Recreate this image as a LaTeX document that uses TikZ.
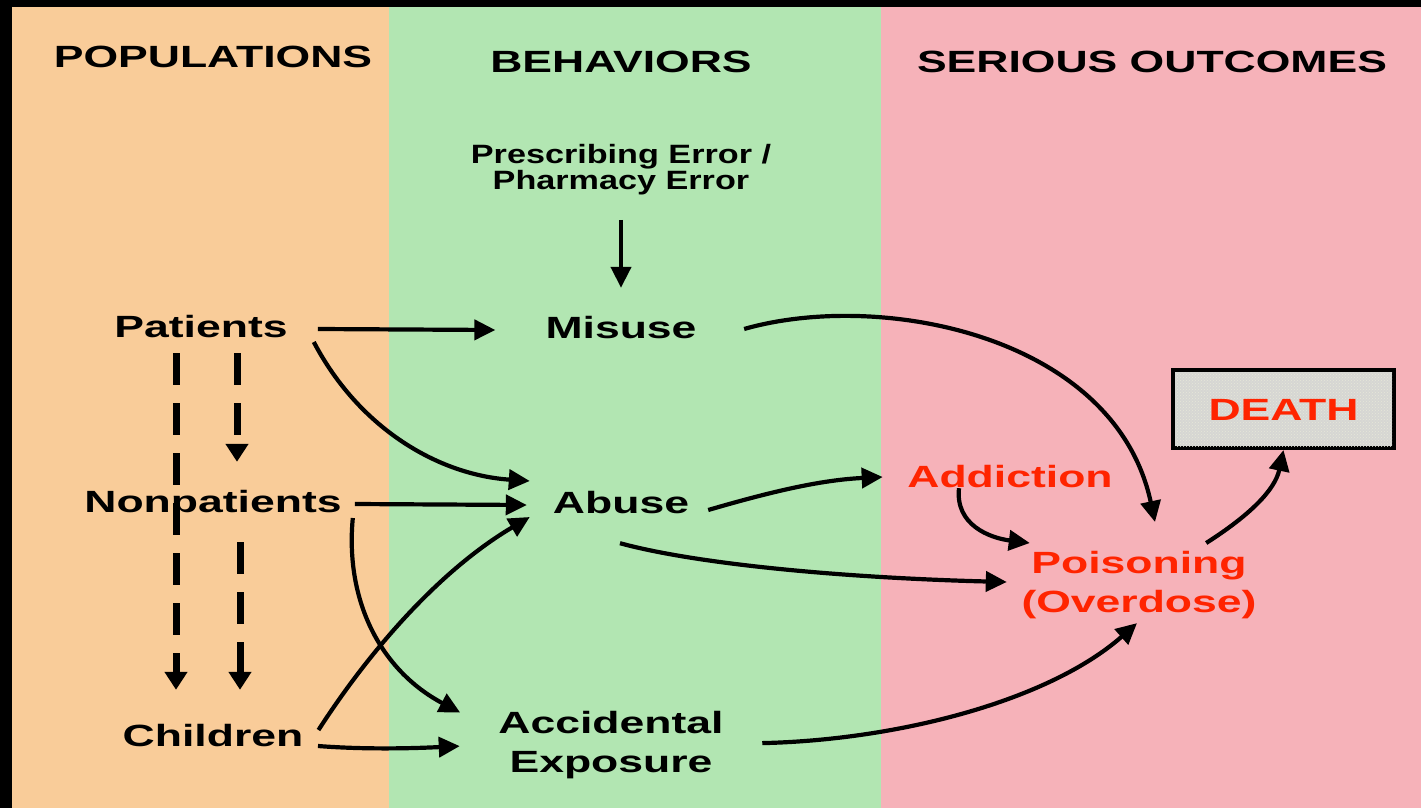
\documentclass[tikz,border=0pt]{standalone}
\usepackage{fontspec}
\usetikzlibrary{arrows.meta,patterns}
\newfontfamily\dfont{Liberation Sans}[FakeStretch=1.45]
\newfontfamily\pfont{Liberation Sans}[FakeStretch=1.29]
\definecolor{popbg}{HTML}{F9CC99}
\definecolor{behbg}{HTML}{B2E6B2}
\definecolor{outbg}{HTML}{F6B2B9}
\definecolor{redtxt}{HTML}{FF2400}
\definecolor{deathbg}{HTML}{D6D6D3}
\definecolor{deathdot}{HTML}{E6E8D8}
\tikzset{
  lbl/.style={font=\dfont\bfseries\fontsize{30.7}{39}\selectfont, inner sep=0pt, text height=22pt, text depth=6pt, anchor=base},
  ttl/.style={lbl},
  redlbl/.style={lbl, text=redtxt},
  twoline/.style={font=\dfont\bfseries\fontsize{30.7}{39}\selectfont, inner sep=0pt, align=center, anchor=north},
  conn/.style={line width=4.2pt, -{Triangle[length=21pt,width=20pt]}},
  dconn/.style={line width=7pt, dash pattern=on 32pt off 18pt, -{Triangle[length=18pt,width=22pt]}},
  deathbox/.style={draw=black, line width=4pt, fill=deathbg, minimum width=221pt, minimum height=78pt, inner sep=0pt,
    font=\dfont\bfseries\fontsize{30.7}{39}\selectfont, text=redtxt, text height=22pt, text depth=0pt}
}
\begin{document}
\begin{tikzpicture}[x=1pt,y=-1pt]
\useasboundingbox (0,0) rectangle (1421,808);
\fill[black] (0,0) rectangle (1421,808);
\fill[popbg] (12,7) rectangle (389,808);
\fill[behbg] (389,7) rectangle (881,808);
\fill[outbg] (881,7) rectangle (1421,808);

% titles
\node[ttl] (tpop) at (213,67) {POPULATIONS};
\node[ttl] (tbeh) at (621,72) {BEHAVIORS};
\node[ttl] (tout) at (1152,72) {SERIOUS OUTCOMES};

% nodes
\node[font=\pfont\bfseries\fontsize{26.5}{26}\selectfont, inner sep=0pt, align=center, anchor=north] (pre) at (621,143.7) {Prescribing Error /\\Pharmacy Error};
\node[lbl] (pat) at (201,337) {Patients};
\node[lbl] (non) at (213,512) {Nonpatients};
\node[lbl] (chi) at (213,746) {Children};
\node[lbl] (mis) at (621,338) {Misuse};
\node[lbl] (abu) at (621,513) {Abuse};
\node[twoline] (acc) at (611,710.6) {Accidental\\Exposure};
\node[redlbl] (add) at (1010,487) {Addiction};
\node[twoline, text=redtxt] (poi) at (1139,550.6) {Poisoning\\(Overdose)};
\node[deathbox] (death) at (1283.5,409) {};
\fill[pattern=crosshatch dots, pattern color=deathdot] ([shift={(4pt,-4pt)}]death.north west) rectangle ([shift={(-4pt,4pt)}]death.south east);
\node[deathbox, draw=none, fill=none] (deathtxt) at (death.center) {DEATH};

% dashed population arrows
\draw[dconn] ([xshift=-25pt,yshift=-10pt]pat.south) -- ([xshift=-37pt,yshift=34pt]chi.north);
\draw[dconn] ([xshift=36pt,yshift=-10pt]pat.south) -- ([xshift=24pt,yshift=28pt]non.north);
\draw[dconn] ([xshift=27pt,yshift=-24pt]non.south) -- ([xshift=27pt,yshift=34pt]chi.north);

% connectors
\draw[conn] ([xshift=30pt]pat.east) -- ([xshift=-50pt]mis.west);
\draw[conn] ([yshift=-25pt]pre.south) -- ([yshift=28pt]mis.north);
\draw[conn] ([xshift=26pt,yshift=-13pt]pat.east) .. controls (360,430) and (440,475) .. ([xshift=-23pt,yshift=24pt]abu.west);
\draw[conn] ([xshift=13pt]non.east) -- ([xshift=-26pt]abu.west);
\draw[conn] ([xshift=15pt,yshift=8pt]chi.east) .. controls (370,650) and (440,570) .. ([xshift=-23pt,yshift=-12pt]abu.west);
\draw[conn] ([xshift=11pt,yshift=-14pt]non.east) .. controls (345,600) and (380,670) .. ([xshift=-38pt,yshift=-2pt]acc.north west);
\draw[conn] ([xshift=14.5pt,yshift=-8pt]chi.east) .. controls (370,750) and (420,748) .. ([xshift=-38.5pt,yshift=-1.5pt]acc.west);
\draw[conn] ([xshift=47.5pt,yshift=1pt]mis.east) .. controls (880,290) and (1115,335) .. ([xshift=16pt,yshift=28.6pt]poi.north);
\draw[conn] ([xshift=19pt,yshift=-5pt]abu.east) .. controls (770,492) and (820,480) .. ([xshift=-24.5pt,yshift=2pt]add.west);
\draw[conn] ([xshift=-1pt,yshift=-24pt]abu.south) .. controls (700,565) and (850,578) .. ([xshift=-14.5pt,yshift=2.6pt]poi.west);
\draw[conn] ([xshift=-51pt,yshift=5pt]add.south) .. controls (955,525) and (990,538) .. ([xshift=8.5pt,yshift=7.6pt]poi.north west);
\draw[conn] ([xshift=38.5pt,yshift=1.5pt]acc.east) .. controls (900,740) and (1050,700) .. ([xshift=-2pt,yshift=-4.5pt]poi.south);
\draw[conn] ([xshift=-50.5pt,yshift=7.6pt]poi.north east) .. controls (1250,515) and (1275,490) .. (death.south);
\end{tikzpicture}
\end{document}
